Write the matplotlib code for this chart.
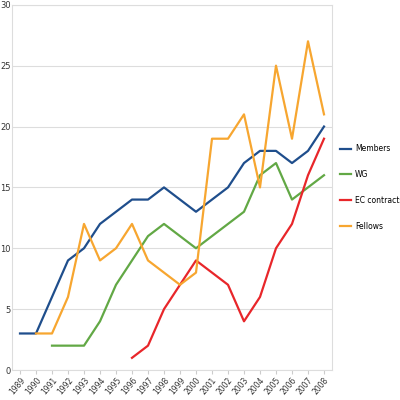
import numpy as np
import matplotlib
matplotlib.use("Agg")
import matplotlib.pyplot as plt

years = list(range(1989, 2009))
members = [3, 3, 6, 9, 10, 12, 13, 14, 14, 15, 14, 13, 14, 15, 17, 18, 18, 17, 18, 20]
wg = [None, None, 2, 2, 2, 4, 7, 9, 11, 12, 11, 10, 11, 12, 13, 16, 17, 14, 15, 16]
ec = [None] * 7 + [1, 2, 5, 7, 9, 8, 7, 4, 6, 10, 12, 16, 19]
fellows = [None, 3, 3, 6, 12, 9, 10, 12, 9, 8, 7, 8, 19, 19, 21, 15, 25, 19, 27, 21]


def arr(v):
    return np.array([np.nan if x is None else x for x in v], dtype=float)


fig = plt.figure(figsize=(4, 4), dpi=100)
ax = fig.add_axes([0.03, 0.075, 0.80, 0.913])
x = np.arange(len(years))
ax.plot(x, arr(members), color="#1f4e8c", lw=1.6, label="Members")
ax.plot(x, arr(wg), color="#62a845", lw=1.6, label="WG")
ax.plot(x, arr(ec), color="#e8262a", lw=1.6, label="EC contracts")
ax.plot(x, arr(fellows), color="#f7a630", lw=1.6, label="Fellows")

ax.set_xlim(-0.5, len(years) - 0.5)
ax.set_ylim(0, 30)
ax.set_yticks(range(0, 31, 5))
ax.set_xticks(x)
ax.set_xticklabels([str(y) for y in years], rotation=50, ha="right",
                   rotation_mode="anchor", fontsize=5.5, color="#333")
ax.tick_params(axis="y", labelsize=6, colors="#333", length=0)
ax.tick_params(axis="x", length=3, color="#ccc", pad=1)
ax.grid(axis="y", color="#dddddd", lw=0.8)
ax.set_axisbelow(True)
for sp in ax.spines.values():
    sp.set_color("#dddddd")
ax.yaxis.set_tick_params(pad=1)
ax.legend(loc="center left", bbox_to_anchor=(1.0, 0.5), frameon=False,
          fontsize=5.5, handlelength=1.5, handletextpad=0.5,
          labelspacing=2.2, borderaxespad=0.6)
fig.savefig("out.png")
